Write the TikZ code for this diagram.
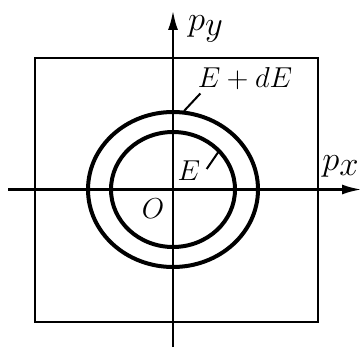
\documentclass[tikz,border=0pt]{standalone}
\usepackage{amsmath}
\usepackage{tikz}
\usetikzlibrary{arrows.meta}

\begin{document}
\begin{tikzpicture}[x=0.5pt, y=-0.5pt,
  axis/.style={line width=1.4pt, -{Latex[length=10pt, width=5pt]}},
  lbl/.style={inner sep=0pt, font=\fontsize{15}{18}\selectfont},
  ax lbl/.style={inner sep=0pt, font=\fontsize{16}{20}\selectfont}]
\useasboundingbox (0,0) rectangle (362,347);

% Frame and axes
\draw[line width=1.4pt] (35,58) rectangle (318,322);
\coordinate (xl) at (8,189.5);
\coordinate (xr) at (362,189.5);
\coordinate (yb) at (173,347);
\coordinate (yt) at (173,10);
\draw[axis] (xl) -- (xr);
\draw[axis] (yb) -- (yt);

% Energy shells
\coordinate (o) at (173,189.5);
\draw[line width=2pt] (o) ellipse [x radius=85, y radius=77.5];
\draw[line width=2pt] (o) ellipse [x radius=62, y radius=57.5];

% Labels
\node[ax lbl] (py) at (206,29) {$p_{\textstyle y}$};
\node[ax lbl] (px) at (341,166) {$p_{\textstyle x}$};
\node[lbl] (EdE) at (245,79) {$E+dE$};
\node[lbl] (E) at (189,171) {$E$};
\node[lbl] (O) at (153,209) {$O$};

\coordinate (outer) at (184,111);
\coordinate (inner) at (219,151);
\draw[line width=1pt] (EdE.south west) ++(3,3) -- (outer);
\draw[line width=1pt] (E.east) ++(6,-2) -- (inner);
\end{tikzpicture}
\end{document}
